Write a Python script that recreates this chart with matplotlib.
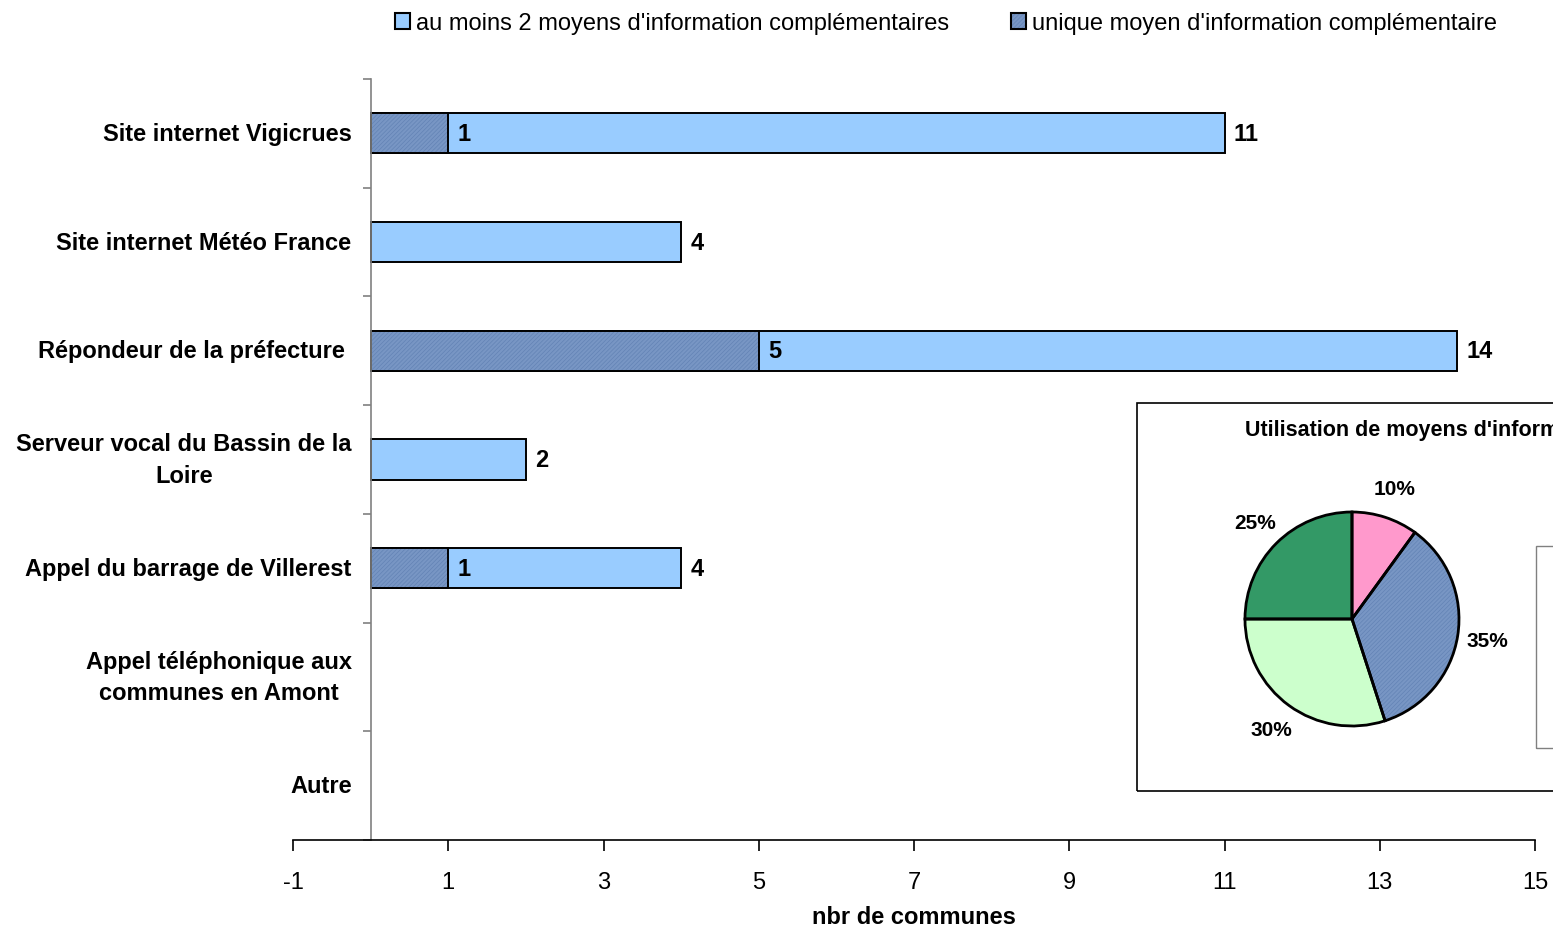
import matplotlib
matplotlib.use("Agg")
import matplotlib.pyplot as plt
from matplotlib.patches import Patch, Rectangle

plt.rcParams['font.family'] = ['Liberation Sans', 'DejaVu Sans']
plt.rcParams['hatch.linewidth'] = 0.5
plt.rcParams['axes.unicode_minus'] = False

# ---------- data ----------
categories = ["Site internet Vigicrues", "Site internet Météo France",
              "Répondeur de la préfecture ", "Serveur vocal du Bassin de la\nLoire",
              "Appel du barrage de Villerest", "Appel téléphonique aux\ncommunes en Amont",
              "Autre"]
total_counts = [11, 4, 14, 2, 4, 0, 0]     # au moins 2 moyens (valeur totale affichée)
unique_counts = [1, 0, 5, 0, 1, 0, 0]      # unique moyen

pie_labels = ["10%", "35%", "30%", "25%"]
pie_values = [10, 35, 30, 25]
pie_colors = ['#FF99CC', '#7896C4', '#CCFFCC', '#339966']

legend_labels = ["au moins 2 moyens d'information complémentaires",
                 "unique moyen d'information complémentaire"]

light_blue = '#99CCFF'
dark_blue = '#7896C4'
hatch_col = '#6383B5'

# ---------- figure ----------
W, H = 1553, 928
fig = plt.figure(figsize=(W / 100, H / 100), dpi=100)
ax = fig.add_axes([293 / W, 1 - 841 / H, (1535 - 293) / W, (841 - 80) / H])

y = list(range(len(categories)))
bar_h = 0.37

# only draw non-empty bars (avoid zero-width outlines)
yt = [yi for yi, t in zip(y, total_counts) if t > 0]
tt = [t for t in total_counts if t > 0]
yu = [yi for yi, u in zip(y, unique_counts) if u > 0]
uu = [u for u in unique_counts if u > 0]

ax.barh(yt, tt, height=bar_h, color=light_blue, edgecolor='black', linewidth=1.4)
ax.barh(yu, uu, height=bar_h, color=dark_blue, edgecolor=hatch_col, hatch='////////', linewidth=0)
ax.barh(yu, uu, height=bar_h, fill=False, edgecolor='black', linewidth=1.4)

for yi, t in zip(yt, tt):
    ax.text(t + 0.12, yi, str(t), va='center', ha='left', fontsize=17, fontweight='bold')
for yi, u in zip(yu, uu):
    ax.text(u + 0.12, yi, str(u), va='center', ha='left', fontsize=17, fontweight='bold')

ax.set_xlim(-1, 15)
ax.set_ylim(len(categories) - 0.5, -0.5)
ax.set_xticks(range(-1, 16, 2))
ax.tick_params(axis='x', labelsize=17, length=8, width=1.2, pad=14, direction='out')

# category boundaries as ticks, category names as text left of the axis line
ax.set_yticks([i - 0.5 for i in range(len(categories) + 1)])
ax.set_yticklabels([])
ax.tick_params(axis='y', which='major', length=6, color='#808080', width=1.2)
for yi, name in zip(y, categories):
    ax.text(0.0472, yi, name, transform=ax.get_yaxis_transform(), ha='right', va='center',
            multialignment='center', fontsize=17, fontweight='bold', linespacing=1.45)

for s in ['top', 'right']:
    ax.spines[s].set_visible(False)
ax.spines['left'].set_position(('data', 0))
ax.spines['left'].set_color('#808080')
ax.spines['left'].set_linewidth(1.2)
ax.spines['bottom'].set_linewidth(1.2)

ax.set_xlabel('nbr de communes', fontsize=17, fontweight='bold', labelpad=9)

# legend at top
h_light = Patch(facecolor=light_blue, edgecolor='black', linewidth=1.5)
h_dark = (Patch(facecolor=dark_blue, edgecolor=hatch_col, linewidth=0, hatch='////////'),
          Patch(fill=False, edgecolor='black', linewidth=1.5))
fig.legend([h_light, h_dark], legend_labels, loc='center', bbox_to_anchor=(946 / W, 1 - 24 / H),
           ncol=2, frameon=False, fontsize=17, handlelength=0.65, handleheight=0.65,
           handletextpad=0.25, columnspacing=2.6)

# ---------- inset pie ----------
fig.patches.append(Rectangle((1137 / W, 1 - 792 / H), 0.5, (792 - 404) / H,
                             transform=fig.transFigure, fill=False, edgecolor='black',
                             linewidth=1.2, zorder=5))
fig.patches.append(Rectangle((1536 / W, 1 - 749 / H), 0.5, (749 - 547) / H,
                             transform=fig.transFigure, fill=False, edgecolor='#808080',
                             linewidth=1.0, zorder=5))
fig.text(1245 / W, 1 - 431 / H, "Utilisation de moyens d'information complémentaires",
         ha='left', va='center', fontsize=15.5, fontweight='bold')

r = 107
pax = fig.add_axes([(1352 - r) / W, 1 - (620 + r) / H, 2 * r / W, 2 * r / H])
wedges, texts = pax.pie(pie_values, labels=pie_labels, colors=pie_colors, startangle=90,
                        counterclock=False, labeldistance=1.28,
                        wedgeprops=dict(linewidth=0),
                        textprops=dict(fontsize=15, fontweight='bold'))
wedges[1].set_hatch('////////')
wedges[1].set_edgecolor(hatch_col)
# black outlines drawn on top
pax.pie(pie_values, startangle=90, counterclock=False,
        wedgeprops=dict(fill=False, edgecolor='black', linewidth=2.0))
for t in texts:
    t.set_ha('center')
    t.set_va('center')
pax.set_xlim(-1, 1)
pax.set_ylim(-1, 1)

fig.savefig('out.png', dpi=100)
